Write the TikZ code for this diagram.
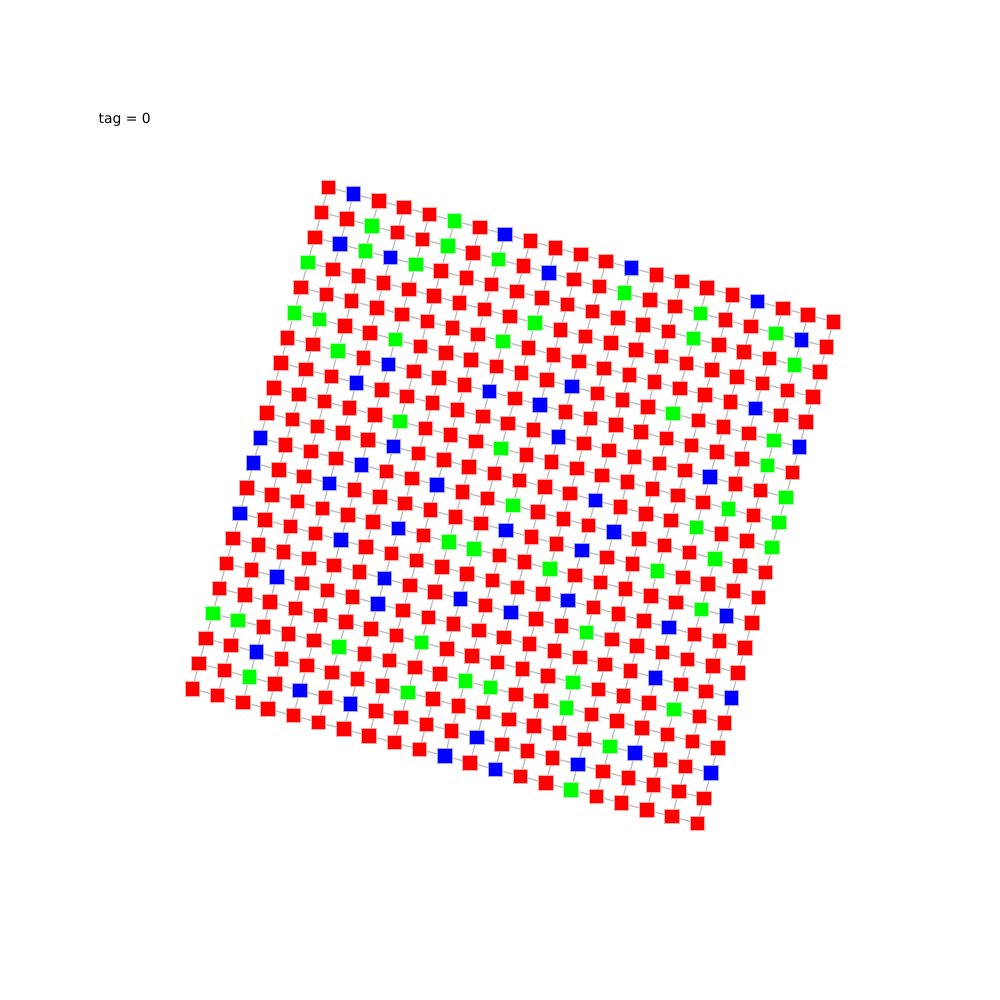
\documentclass[tikz,border=0pt]{standalone}
\usepackage{fontspec}
\setmainfont{DejaVu Sans}
\usetikzlibrary{backgrounds}
\definecolor{nred}{RGB}{255,0,0}
\definecolor{nblue}{RGB}{0,0,255}
\definecolor{ngreen}{RGB}{0,255,0}
\definecolor{edgegray}{RGB}{190,190,190}
\tikzset{
  sq/.style={rectangle, inner sep=0pt, minimum size=14.5pt, line width=0.8pt},
  grid edge/.style={draw=edgegray, line width=1.3pt}
}
\def\setcol#1#2{\foreach \cp in {#2}{\expandafter\gdef\csname ncol-\cp\endcsname{#1}}}
\setcol{nblue}{1-0,1-2,3-2,7-0,9-1,12-0,17-0,19-1,4-6,3-7,8-6,11-5,10-6,18-4,0-10,0-11,5-9,11-7,20-5,4-10,3-11,7-10,17-7,13-9,0-13,6-12,10-11,14-10,4-13,13-11,2-15,6-14,6-15,9-14,11-14,13-13,19-12,17-13,2-18,4-19,6-19,17-15,20-15,11-19,10-20,12-20,15-19,17-18,20-18}
\setcol{ngreen}{2-1,5-0,5-1,2-2,0-3,4-2,7-1,12-1,0-5,1-5,15-1,2-6,4-5,8-4,9-3,15-2,18-1,19-2,15-5,5-8,19-5,9-8,19-6,20-7,10-10,18-8,17-9,20-8,20-9,8-12,9-12,12-12,16-11,18-10,0-17,1-17,18-12,14-14,5-17,8-16,2-19,8-18,10-17,11-17,14-16,14-17,18-16,16-18,15-20}
\begin{document}
\begin{tikzpicture}[x=1pt,y=-1pt]
\useasboundingbox (0,0) rectangle (1000,1000);
\node[anchor=base west, inner sep=0pt, font=\fontsize{13.9}{16}\selectfont] (title) at (98.5,123.5) {tag = 0};
\foreach \i in {0,...,20}{
  \foreach \j in {0,...,20}{
    \pgfmathsetmacro\uu{\i/20}
    \pgfmathsetmacro\vv{\j/20}
    \pgfmathsetmacro\px{(1-\uu)*(1-\vv)*328.3+\uu*(1-\vv)*833.3+(1-\uu)*\vv*192.3+\uu*\vv*697.3}
    \pgfmathsetmacro\py{(1-\uu)*(1-\vv)*187.3+\uu*(1-\vv)*321.7+(1-\uu)*\vv*688.7+\uu*\vv*823.3}
    \ifcsname ncol-\i-\j\endcsname \edef\cc{\csname ncol-\i-\j\endcsname}\else\def\cc{nred}\fi
    \node[sq, fill=\cc, draw=\cc!35] (n-\i-\j) at (\px,\py) {};
  }
}
\begin{pgfonlayer}{background}
\foreach \i in {0,...,20}{
  \foreach \j in {0,...,20}{
    \ifnum\i<20 \pgfmathtruncatemacro\ii{\i+1}\draw[grid edge] (n-\i-\j.center) -- (n-\ii-\j.center);\fi
    \ifnum\j<20 \pgfmathtruncatemacro\jj{\j+1}\draw[grid edge] (n-\i-\j.center) -- (n-\i-\jj.center);\fi
  }
}
\end{pgfonlayer}
\end{tikzpicture}
\end{document}
